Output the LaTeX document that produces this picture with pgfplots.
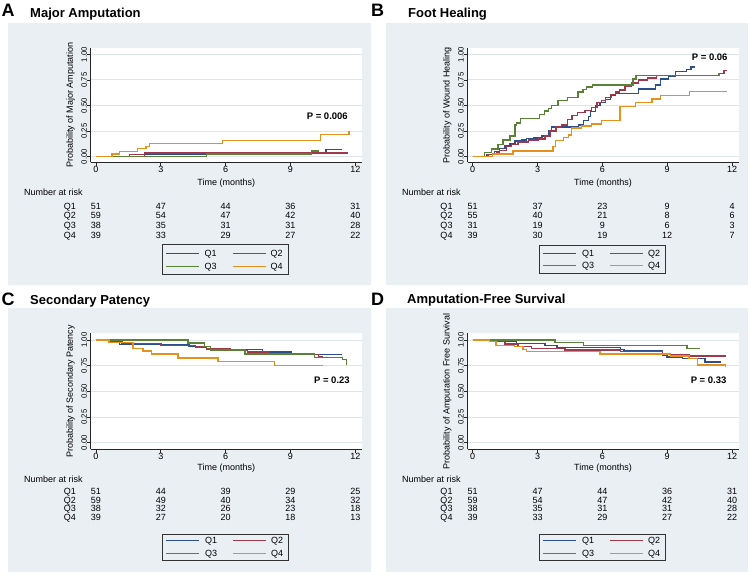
\documentclass[border=0pt]{standalone}
\usepackage{fontspec}
\setmainfont{Liberation Sans}
\usepackage{pgfplots}
\pgfplotsset{compat=1.18}

\definecolor{panelbg}{RGB}{233,239,243}
\definecolor{gridc}{RGB}{222,229,234}
\definecolor{qone}{RGB}{45,78,140}
\definecolor{qtwo}{RGB}{158,56,74}
\definecolor{qthree}{RGB}{90,130,55}
\definecolor{qfour}{RGB}{230,145,30}

\newcommand{\sz}[1]{\fontsize{#1}{#1}\selectfont}

% number-at-risk row: x of month 0, baseline, label, counts at 0,3,6,9,12
\newcommand{\riskrow}[8]{%
  \node[anchor=base east] at ({#1-20},#2) {#3};
  \node[anchor=base] at (#1,#2) {#4};
  \node[anchor=base] at ({#1+64.83},#2) {#5};
  \node[anchor=base] at ({#1+129.66},#2) {#6};
  \node[anchor=base] at ({#1+194.49},#2) {#7};
  \node[anchor=base] at ({#1+259.32},#2) {#8};
}

% legend box: left, top, bottom, y of first row, y of second row
\newcommand{\kmlegend}[5]{%
  \draw[black!80, line width=0.8pt] (#1,#2) rectangle ({#1+126},#3);
  \draw[qone, line width=1.4pt] ({#1+4},#4) -- ({#1+36.5},#4);
  \node[anchor=base west] at ({#1+42.5},{#4+3.2}) {Q1};
  \draw[qtwo, line width=1.4pt] ({#1+70.5},#4) -- ({#1+103.5},#4);
  \node[anchor=base west] at ({#1+108.5},{#4+3.2}) {Q2};
  \draw[qthree, line width=1.4pt] ({#1+4},#5) -- ({#1+36.5},#5);
  \node[anchor=base west] at ({#1+42.5},{#5+3.2}) {Q3};
  \draw[qfour, line width=1.4pt] ({#1+70.5},#5) -- ({#1+103.5},#5);
  \node[anchor=base west] at ({#1+108.5},{#5+3.2}) {Q4};
}

\tikzset{pval/.style={anchor=east, inner sep=0pt, font=\sz{9.5}\bfseries}}

\pgfplotsset{
  km/.style={
    scale only axis, width=271pt, anchor=south west,
    xmin=-0.24, xmax=12.3,
    xtick={0,3,6,9,12},
    ytick={0,0.25,0.5,0.75,1},
    axis x line*=bottom, axis y line*=left,
    axis line style={black!85, line width=0.7pt},
    tick align=outside, major tick length=4pt,
    tick style={black!85, line width=0.7pt},
    ymajorgrids, grid style={gridc, line width=0.9pt},
    axis background/.style={fill=white},
    xticklabel style={font=\sz{9}, inner sep=0pt},
    /pgf/number format/assume math mode=true,
    yticklabel={\pgfmathprintnumber[fixed,fixed zerofill,precision=2]{\tick}},
    yticklabel style={font=\sz{7.8}, rotate=90, anchor=base, inner sep=0pt},
    xlabel={Time (months)},
    label style={font=\sz{9}},
    xlabel style={anchor=base},
    ylabel style={anchor=base},
  },
  q1/.style={qone, line width=1.4pt, const plot},
  q2/.style={qtwo, line width=1.4pt, const plot},
  q3/.style={qthree, line width=1.4pt, const plot},
  q4/.style={qfour, line width=1.4pt, const plot},
}

\begin{document}
\begin{tikzpicture}
\useasboundingbox (0,0) rectangle (750pt,-575pt);
\fill[white] (0,0) rectangle (750pt,-575pt);
\begin{scope}[x=1pt,y=-1pt]
  \fill[panelbg] (8,23) rectangle (370.5,285);
  \fill[panelbg] (386,23) rectangle (748,285);
  \fill[panelbg] (8,308) rectangle (370.5,572);
  \fill[panelbg] (386,308) rectangle (748,572);
  \node[anchor=base west, inner sep=0pt, font=\sz{18}\bfseries] at (1.5,16.7) {A};
  \node[anchor=base west, inner sep=0pt, font=\sz{18}\bfseries] at (371,16.7) {B};
  \node[anchor=base west, inner sep=0pt, font=\sz{18}\bfseries] at (1.5,305) {C};
  \node[anchor=base west, inner sep=0pt, font=\sz{18}\bfseries] at (371,305) {D};
  \node[anchor=base west, inner sep=0pt, font=\sz{13}\bfseries] at (30,17.3) {Major Amputation};
  \node[anchor=base west, inner sep=0pt, font=\sz{13}\bfseries] at (408,17.3) {Foot Healing};
  \node[anchor=base west, inner sep=0pt, font=\sz{13}\bfseries] at (30,304) {Secondary Patency};
  \node[anchor=base west, inner sep=0pt, font=\sz{13}\bfseries] at (407,303.5) {Amputation-Free Survival};
\end{scope}

% A: major amputation
\begin{axis}[km, at={(90.8pt,-162.3pt)}, height=114pt,
  ymin=-0.057, ymax=1.06,
  ylabel={Probability of Major Amputation},
  ylabel style={at={(axis description cs:-0.0657,0.5)}},
  xlabel style={at={(axis description cs:0.5,-0.2035)}}]
\addplot[q1] coordinates {(0,0)(2.25,0.02)(8.72,0.04)(10.65,0.07)(11.4,0.07)};
\addplot[q2] coordinates {(0,0)(1.56,0.017)(2.25,0.034)(11.65,0.034)};
\addplot[q3] coordinates {(0,0)(5.1,0.026)(9.98,0.055)(10.3,0.055)};
\addplot[q4] coordinates {(0,0)(0.74,0.026)(1.1,0.051)(1.92,0.077)(2.32,0.10)(2.49,0.128)(5.86,0.155)(10.4,0.215)(11.7,0.245)};
\node[pval] at (axis cs:11.66,0.39) {P = 0.006};
\end{axis}

% B: foot healing
\begin{axis}[km, at={(467.5pt,-162.3pt)}, height=114pt,
  ymin=-0.057, ymax=1.06,
  ylabel={Probability of Wound Healing},
  ylabel style={at={(axis description cs:-0.0657,0.5)}},
  xlabel style={at={(axis description cs:0.5,-0.2035)}}]
\addplot[q1] coordinates {(0,0)(0.64,0.02)(1.0,0.05)(1.25,0.08)(1.5,0.11)(1.72,0.13)(1.95,0.15)(2.26,0.16)(2.5,0.175)(2.8,0.18)(3.2,0.2)(3.5,0.25)(3.66,0.29)(4.9,0.31)(5.13,0.35)(5.36,0.39)(5.45,0.44)(5.67,0.5)(5.9,0.53)(6.14,0.56)(6.37,0.6)(6.6,0.62)(7.67,0.66)(8.45,0.70)(8.7,0.76)(9.07,0.79)(9.38,0.835)(9.9,0.85)(10.1,0.875)(10.3,0.875)};
\addplot[q2] coordinates {(0,0)(0.7,0.02)(1.1,0.04)(1.25,0.06)(1.57,0.10)(1.8,0.12)(2.1,0.14)(2.57,0.16)(3.04,0.17)(3.35,0.2)(3.58,0.25)(3.85,0.29)(4.12,0.31)(4.4,0.36)(4.6,0.40)(4.85,0.43)(5.2,0.45)(5.5,0.48)(5.75,0.53)(5.97,0.55)(6.14,0.58)(6.4,0.61)(6.6,0.63)(6.8,0.65)(7.05,0.69)(7.36,0.72)(7.67,0.75)(8.1,0.77)(8.5,0.795)(11.4,0.815)(11.63,0.845)(11.75,0.845)};
\addplot[q3] coordinates {(0,0)(0.56,0.04)(0.87,0.075)(1.18,0.12)(1.41,0.16)(1.72,0.2)(1.95,0.31)(2.03,0.33)(2.2,0.37)(3.1,0.41)(3.33,0.445)(3.5,0.47)(3.64,0.5)(3.95,0.55)(4.4,0.58)(4.88,0.63)(5.1,0.655)(5.27,0.68)(5.55,0.70)(7.42,0.76)(7.55,0.795)(11.4,0.82)};
\addplot[q4] coordinates {(0,0)(0.93,0.026)(1.86,0.052)(3.72,0.10)(3.83,0.155)(4.2,0.185)(4.42,0.21)(4.57,0.28)(5.04,0.30)(5.5,0.32)(5.97,0.35)(6.82,0.49)(7.52,0.53)(8.3,0.565)(8.68,0.60)(10.03,0.635)(11.78,0.635)};
\node[pval] at (axis cs:11.8,0.976) {P = 0.06};
\end{axis}

% C: secondary patency
\begin{axis}[km, at={(90.8pt,-449.3pt)}, height=116pt,
  ymin=-0.064, ymax=1.066,
  ylabel={Probability of Secondary Patency},
  ylabel style={at={(axis description cs:-0.0657,0.5)}},
  xlabel style={at={(axis description cs:0.5,-0.183)}}]
\addplot[q1] coordinates {(0,1)(0.57,0.975)(1.1,0.955)(4.3,0.935)(5.3,0.91)(7.7,0.885)(9.05,0.857)(11.4,0.857)};
\addplot[q2] coordinates {(0,1)(0.6,0.983)(1.2,0.966)(3.0,0.95)(4.6,0.932)(5.1,0.915)(6.2,0.90)(7.0,0.885)(8.0,0.87)(9.5,0.86)(10.3,0.835)(10.5,0.835)};
\addplot[q3] coordinates {(0,1)(4.26,0.97)(5.03,0.935)(5.3,0.905)(6.9,0.865)(10.1,0.83)(11.4,0.81)(11.6,0.755)};
\addplot[q4] coordinates {(0,1)(0.6,0.974)(1.72,0.92)(2.18,0.895)(2.57,0.865)(3.8,0.825)(5.65,0.79)(8.26,0.75)(10.5,0.75)};
\node[pval] at (axis cs:11.75,0.606) {P = 0.23};
\end{axis}

% D: amputation-free survival
\begin{axis}[km, at={(467.5pt,-449.3pt)}, height=116pt,
  ymin=-0.064, ymax=1.066,
  ylabel={Probability of Amputation Free Survival},
  ylabel style={at={(axis description cs:-0.0657,0.5)}},
  xlabel style={at={(axis description cs:0.5,-0.183)}}]
\addplot[q1] coordinates {(0,1)(0.78,0.984)(2.03,0.968)(3.35,0.945)(3.9,0.93)(6.84,0.91)(7.0,0.9)(8.78,0.855)(9.0,0.835)(9.7,0.82)(10.75,0.785)(11.47,0.785)};
\addplot[q2] coordinates {(0,1)(0.8,0.984)(1.5,0.96)(2.1,0.935)(2.73,0.92)(4.28,0.905)(6.84,0.89)(8.78,0.862)(10.0,0.845)(11.7,0.845)};
\addplot[q3] coordinates {(0,1)(3.8,0.974)(5.12,0.945)(9.92,0.92)(10.54,0.92)};
\addplot[q4] coordinates {(0,1)(0.78,0.984)(1.08,0.95)(1.94,0.935)(2.33,0.91)(2.48,0.886)(5.9,0.864)(9.15,0.845)(10.0,0.82)(10.4,0.757)(11.7,0.735)};
\node[pval] at (axis cs:11.75,0.606) {P = 0.33};
\end{axis}

% number-at-risk tables and legends
\begin{scope}[x=1pt,y=-1pt, every node/.style={inner sep=0pt, font=\sz{9}}]
  \node[anchor=base west] at (24,196) {Number at risk};
  \riskrow{96}{209}{Q1}{51}{47}{44}{36}{31}
  \riskrow{96}{218.3}{Q2}{59}{54}{47}{42}{40}
  \riskrow{96}{228.3}{Q3}{38}{35}{31}{31}{28}
  \riskrow{96}{238.3}{Q4}{39}{33}{29}{27}{22}
  \kmlegend{162}{244}{274}{253.5}{266.5}

  \node[anchor=base west] at (402,196) {Number at risk};
  \riskrow{472.7}{209}{Q1}{51}{37}{23}{9}{4}
  \riskrow{472.7}{218.3}{Q2}{55}{40}{21}{8}{6}
  \riskrow{472.7}{228.3}{Q3}{31}{19}{9}{6}{3}
  \riskrow{472.7}{238.3}{Q4}{39}{30}{19}{12}{7}
  \kmlegend{539.3}{245}{273}{253.5}{265.5}

  \node[anchor=base west] at (24,482.5) {Number at risk};
  \riskrow{96}{494}{Q1}{51}{44}{39}{29}{25}
  \riskrow{96}{503}{Q2}{59}{49}{40}{34}{32}
  \riskrow{96}{511.8}{Q3}{38}{32}{26}{23}{18}
  \riskrow{96}{520.6}{Q4}{39}{27}{20}{18}{13}
  \kmlegend{162.3}{534.3}{560}{540.5}{553.5}

  \node[anchor=base west] at (402,482.5) {Number at risk};
  \riskrow{472.7}{494}{Q1}{51}{47}{44}{36}{31}
  \riskrow{472.7}{503}{Q2}{59}{54}{47}{42}{40}
  \riskrow{472.7}{511.8}{Q3}{38}{35}{31}{31}{28}
  \riskrow{472.7}{520.6}{Q4}{39}{33}{29}{27}{22}
  \kmlegend{539.3}{534.3}{560}{540.5}{553.5}
\end{scope}
\end{tikzpicture}
\end{document}
